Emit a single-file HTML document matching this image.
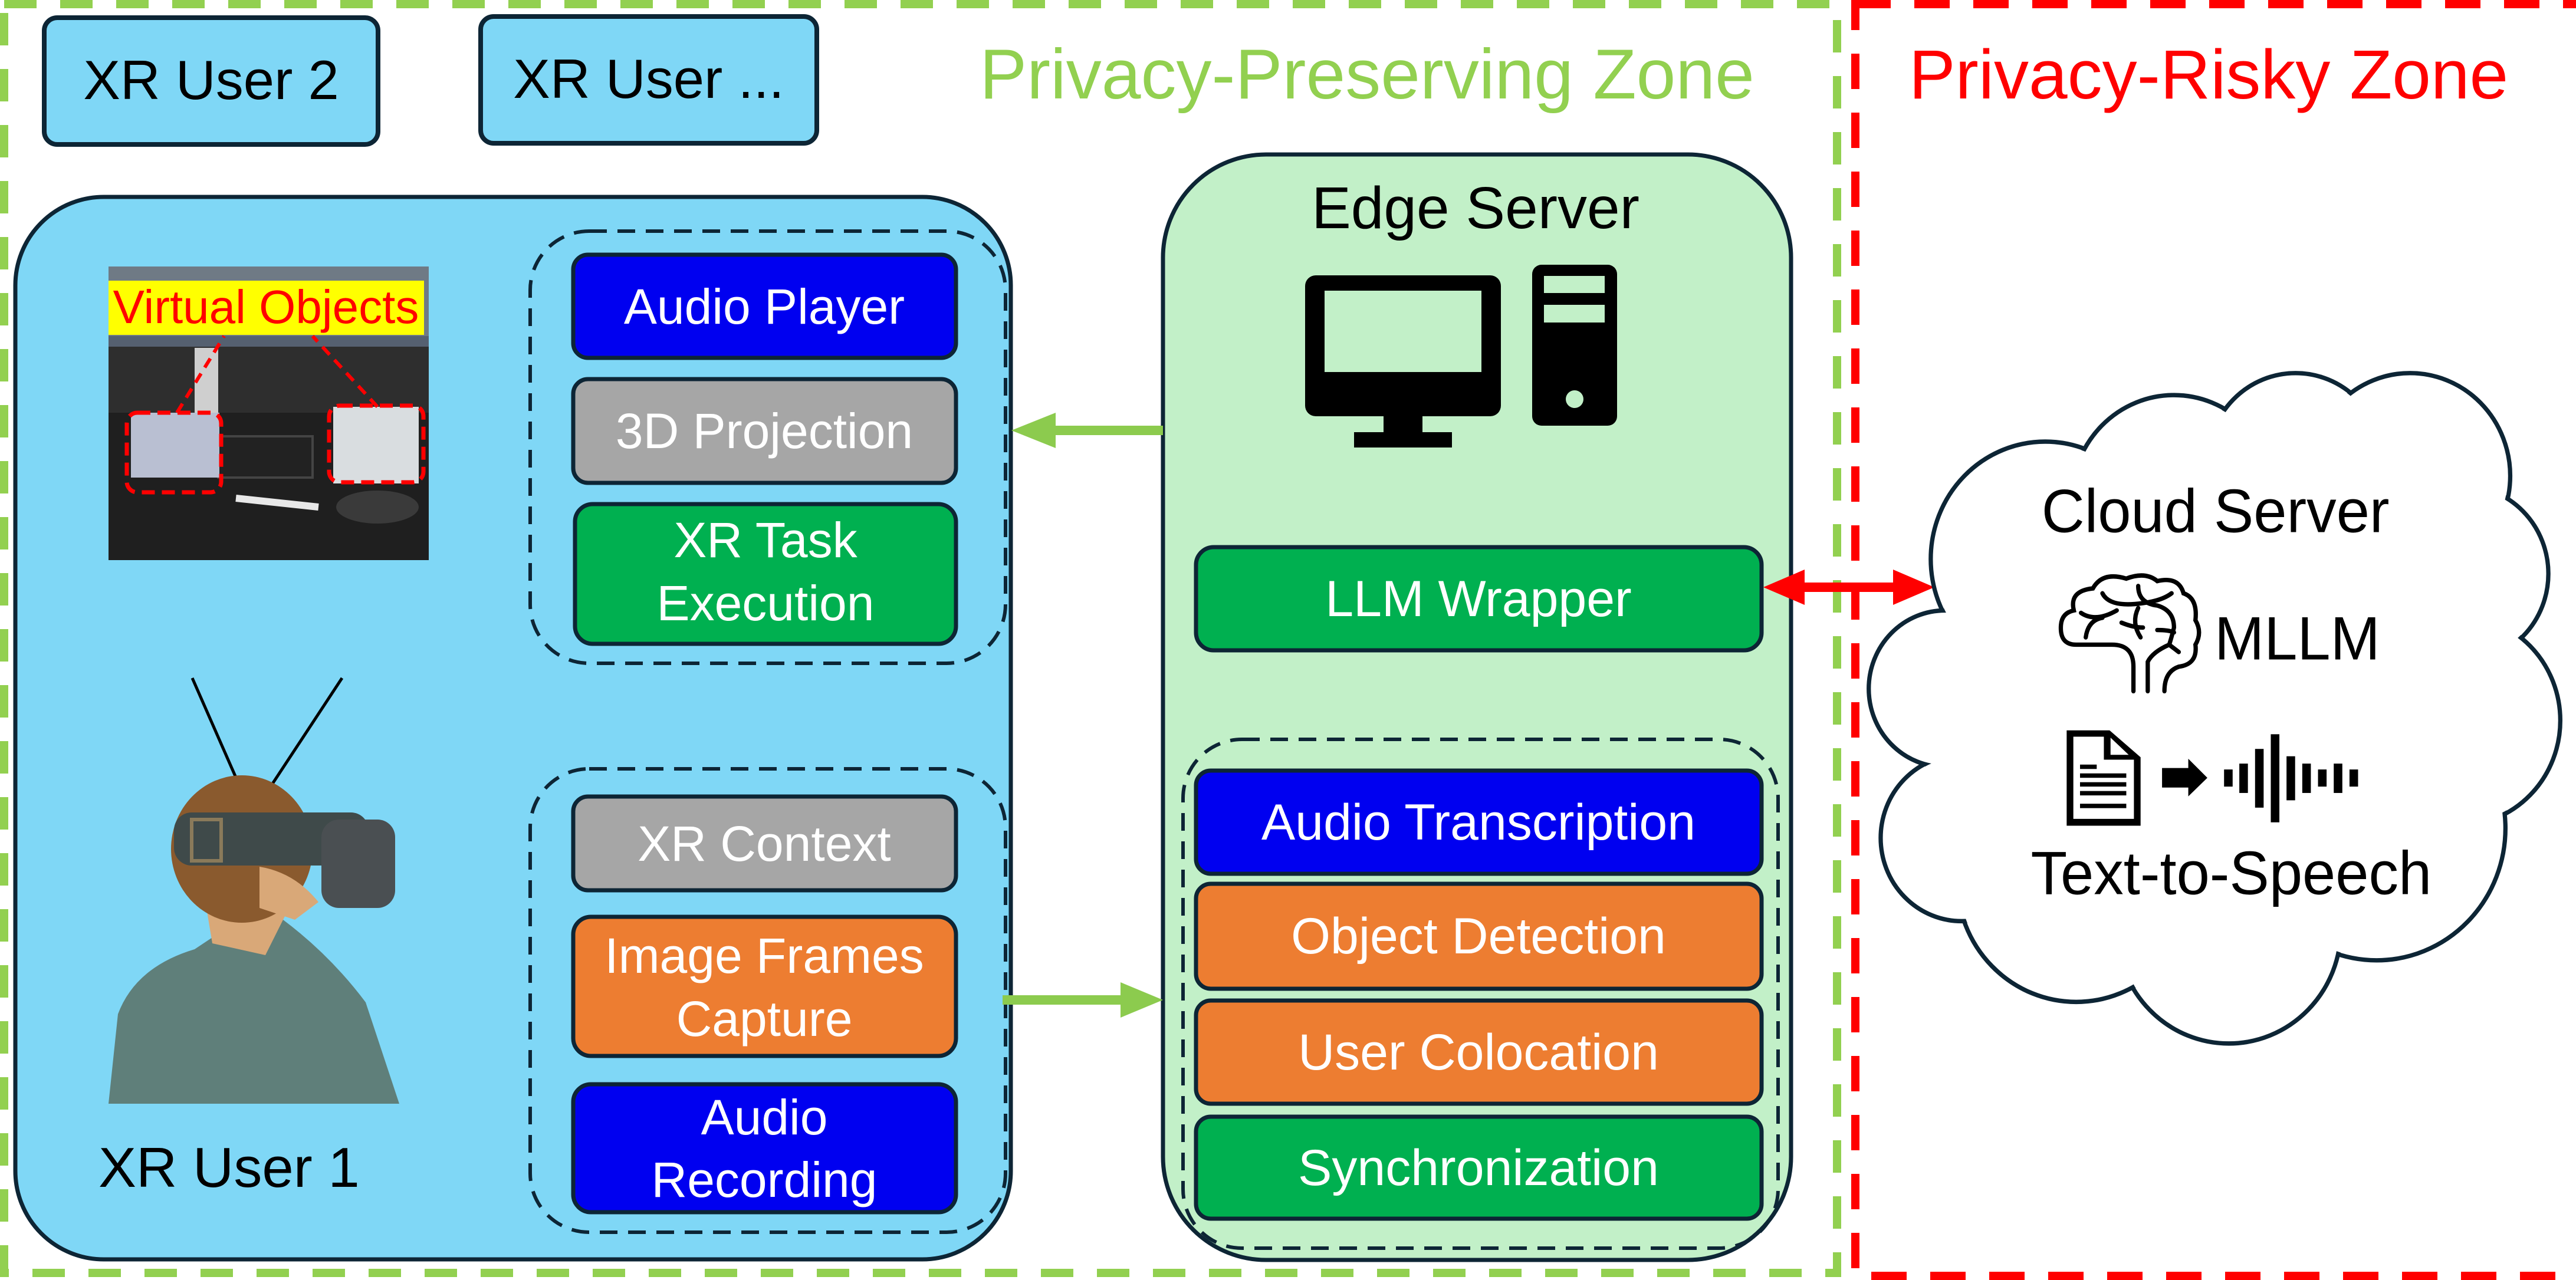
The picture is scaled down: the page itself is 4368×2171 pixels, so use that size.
<!DOCTYPE html>
<html><head><meta charset="utf-8">
<style>
html,body{margin:0;padding:0;background:#fff;}
svg{display:block;}
text{font-family:"Liberation Sans",sans-serif;}
</style></head>
<body>
<svg width="4368" height="2171" viewBox="0 0 4368 2171" xmlns="http://www.w3.org/2000/svg">
<rect width="4368" height="2171" fill="#fff"/>
<rect x="7" y="7" width="3108" height="2152" fill="none" stroke="#92D050" stroke-width="14" stroke-dasharray="55 40"/>
<rect x="3146" y="7" width="3215" height="2157" fill="none" stroke="#FF0000" stroke-width="14" stroke-dasharray="60 40"/>
<text x="2318" y="167" font-size="120" fill="#92D050" text-anchor="middle">Privacy-Preserving Zone</text>
<text x="3745" y="167" font-size="118" fill="#FF0000" text-anchor="middle">Privacy-Risky Zone</text>

<rect x="75" y="30" width="566" height="215" rx="22" fill="#7FD7F6" stroke="#0D2535" stroke-width="8"/>
<text x="358" y="168" font-size="94" text-anchor="middle">XR User 2</text>
<rect x="815" y="28" width="570" height="215" rx="22" fill="#7FD7F6" stroke="#0D2535" stroke-width="8"/>
<text x="1100" y="166" font-size="94" text-anchor="middle">XR User ...</text>

<rect x="26" y="334" width="1688" height="1802" rx="150" fill="#7FD7F6" stroke="#0D2535" stroke-width="7"/>

<!-- photo -->
<rect x="184" y="452" width="543" height="498" fill="#2e2e2e"/>
<rect x="184" y="452" width="543" height="130" fill="#6f7a85"/>
<rect x="184" y="570" width="543" height="18" fill="#556070"/>
<rect x="184" y="700" width="543" height="250" fill="#1f1f1f"/>
<rect x="330" y="590" width="40" height="160" fill="#cfcfcf"/>
<rect x="370" y="740" width="160" height="70" fill="#222" stroke="#444" stroke-width="4"/>
<rect x="222" y="700" width="150" height="110" fill="#b9bfd2"/>
<rect x="565" y="690" width="145" height="130" fill="#d9dde0"/>
<line x1="400" y1="845" x2="540" y2="860" stroke="#e8e8e8" stroke-width="12"/>
<ellipse cx="640" cy="860" rx="70" ry="28" fill="#3a3a3a"/>
<rect x="215" y="700" width="160" height="135" rx="18" fill="none" stroke="#FF0000" stroke-width="7" stroke-dasharray="22 12"/>
<rect x="558" y="688" width="160" height="130" rx="18" fill="none" stroke="#FF0000" stroke-width="7" stroke-dasharray="22 12"/>
<line x1="300" y1="700" x2="380" y2="570" stroke="#FF0000" stroke-width="6" stroke-dasharray="18 12"/>
<line x1="640" y1="690" x2="530" y2="570" stroke="#FF0000" stroke-width="6" stroke-dasharray="18 12"/>
<rect x="184" y="476" width="535" height="92" fill="#FFFF00"/>
<text x="451" y="548" font-size="80" fill="#FF0000" text-anchor="middle">Virtual Objects</text>

<line x1="326" y1="1150" x2="412" y2="1346" stroke="#000" stroke-width="5"/>
<line x1="580" y1="1150" x2="451" y2="1346" stroke="#000" stroke-width="5"/>

<!-- person -->
<path d="M184 1872 L200 1720 Q230 1640 330 1610 L390 1570 L480 1560 Q560 1620 620 1700 L677 1872 Z" fill="#5f7f7a"/>
<path d="M340 1480 L360 1600 L450 1620 L490 1540 Z" fill="#d9a878"/>
<ellipse cx="410" cy="1440" rx="120" ry="125" fill="#8a5a2e"/>
<path d="M440 1470 Q500 1480 540 1530 L500 1560 L440 1540 Z" fill="#d9a878"/>
<rect x="295" y="1378" width="330" height="90" rx="30" fill="#3f4a4a"/>
<rect x="545" y="1390" width="125" height="150" rx="30" fill="#4a4f52"/>
<rect x="325" y="1390" width="50" height="70" fill="none" stroke="#8a7a5a" stroke-width="6"/>

<text x="167" y="2013" font-size="96">XR User 1</text>

<rect x="899" y="392" width="806" height="733" rx="100" fill="none" stroke="#0D2535" stroke-width="6" stroke-dasharray="30 18"/>
<rect x="972" y="432" width="649" height="175" rx="25" fill="#0000F0" stroke="#0D2535" stroke-width="7"/>
<text x="1296" y="549" font-size="84" fill="#fff" text-anchor="middle">Audio Player</text>
<rect x="972" y="643" width="649" height="176" rx="25" fill="#A6A6A6" stroke="#0D2535" stroke-width="7"/>
<text x="1296" y="760" font-size="84" fill="#fff" text-anchor="middle">3D Projection</text>
<rect x="975" y="855" width="646" height="237" rx="30" fill="#00B050" stroke="#0D2535" stroke-width="7"/>
<text x="1298" y="945" font-size="84" fill="#fff" text-anchor="middle">XR Task</text>
<text x="1298" y="1052" font-size="84" fill="#fff" text-anchor="middle">Execution</text>

<rect x="899" y="1304" width="806" height="786" rx="100" fill="none" stroke="#0D2535" stroke-width="6" stroke-dasharray="30 18"/>
<rect x="972" y="1351" width="649" height="159" rx="25" fill="#A6A6A6" stroke="#0D2535" stroke-width="7"/>
<text x="1296" y="1460" font-size="84" fill="#fff" text-anchor="middle">XR Context</text>
<rect x="972" y="1555" width="649" height="236" rx="30" fill="#ED7D31" stroke="#0D2535" stroke-width="7"/>
<text x="1296" y="1650" font-size="84" fill="#fff" text-anchor="middle">Image Frames</text>
<text x="1296" y="1757" font-size="84" fill="#fff" text-anchor="middle">Capture</text>
<rect x="972" y="1839" width="649" height="217" rx="30" fill="#0000F0" stroke="#0D2535" stroke-width="7"/>
<text x="1296" y="1924" font-size="84" fill="#fff" text-anchor="middle">Audio</text>
<text x="1296" y="2030" font-size="84" fill="#fff" text-anchor="middle">Recording</text>

<rect x="1972" y="262" width="1065" height="1875" rx="175" fill="#C2F0C8" stroke="#0D2535" stroke-width="7"/>
<text x="2502" y="387" font-size="100" text-anchor="middle">Edge Server</text>
<rect x="2213" y="467" width="332" height="239" rx="18" fill="#000"/>
<rect x="2246" y="493" width="266" height="138" fill="#C2F0C8"/>
<rect x="2346" y="700" width="66" height="35" fill="#000"/>
<rect x="2296" y="733" width="166" height="26" fill="#000"/>
<rect x="2598" y="449" width="144" height="273" rx="16" fill="#000"/>
<rect x="2618" y="468" width="103" height="29" fill="#C2F0C8"/>
<rect x="2618" y="517" width="103" height="30" fill="#C2F0C8"/>
<ellipse cx="2670" cy="677" rx="15" ry="15" fill="#C2F0C8"/>

<rect x="2028" y="928" width="959" height="175" rx="30" fill="#00B050" stroke="#0D2535" stroke-width="7"/>
<text x="2507" y="1045" font-size="86" fill="#fff" text-anchor="middle">LLM Wrapper</text>

<rect x="2006" y="1254" width="1009" height="863" rx="100" fill="none" stroke="#0D2535" stroke-width="6" stroke-dasharray="30 18"/>
<rect x="2028" y="1307" width="959" height="175" rx="25" fill="#0000F0" stroke="#0D2535" stroke-width="7"/>
<text x="2507" y="1424" font-size="86" fill="#fff" text-anchor="middle">Audio Transcription</text>
<rect x="2028" y="1499" width="959" height="178" rx="25" fill="#ED7D31" stroke="#0D2535" stroke-width="7"/>
<text x="2507" y="1617" font-size="86" fill="#fff" text-anchor="middle">Object Detection</text>
<rect x="2028" y="1697" width="959" height="175" rx="25" fill="#ED7D31" stroke="#0D2535" stroke-width="7"/>
<text x="2507" y="1814" font-size="86" fill="#fff" text-anchor="middle">User Colocation</text>
<rect x="2028" y="1894" width="959" height="173" rx="25" fill="#00B050" stroke="#0D2535" stroke-width="7"/>
<text x="2507" y="2010" font-size="86" fill="#fff" text-anchor="middle">Synchronization</text>

<line x1="1972" y1="730" x2="1780" y2="730" stroke="#8CCB4E" stroke-width="16"/>
<polygon points="1715,730 1790,700 1790,760" fill="#8CCB4E"/>
<line x1="1700" y1="1696" x2="1910" y2="1696" stroke="#8CCB4E" stroke-width="16"/>
<polygon points="1972,1696 1900,1666 1900,1726" fill="#8CCB4E"/>

<line x1="3040" y1="996" x2="3230" y2="996" stroke="#FF0000" stroke-width="16"/>
<polygon points="2990,996 3060,966 3060,1026" fill="#FF0000"/>
<polygon points="3280,996 3210,966 3210,1026" fill="#FF0000"/>

<g transform="translate(3100,500) scale(0.8087,0.83)">
  <g fill="#fff" stroke="#0D2535" stroke-width="9">
    <circle cx="455" cy="540" r="240"/>
    <circle cx="725" cy="420" r="215"/>
    <circle cx="980" cy="345" r="185"/>
    <circle cx="1220" cy="370" r="210"/>
    <circle cx="1330" cy="570" r="180"/>
    <circle cx="1320" cy="870" r="215"/>
    <circle cx="1150" cy="1090" r="270"/>
    <circle cx="840" cy="1295" r="235"/>
    <circle cx="520" cy="1195" r="250"/>
    <circle cx="280" cy="1110" r="170"/>
    <circle cx="245" cy="805" r="160"/>
  </g>
  <g fill="#fff">
    <circle cx="455" cy="540" r="235"/>
    <circle cx="725" cy="420" r="210"/>
    <circle cx="980" cy="345" r="180"/>
    <circle cx="1220" cy="370" r="205"/>
    <circle cx="1330" cy="570" r="175"/>
    <circle cx="1320" cy="870" r="210"/>
    <circle cx="1150" cy="1090" r="265"/>
    <circle cx="840" cy="1295" r="230"/>
    <circle cx="520" cy="1195" r="245"/>
    <circle cx="280" cy="1110" r="165"/>
    <circle cx="245" cy="805" r="155"/>
    <circle cx="800" cy="800" r="520"/>
  </g>
  <text x="812" y="485" font-size="125" text-anchor="middle">Cloud Server</text>
  <g fill="none" stroke="#000" stroke-width="9" stroke-linecap="round">
    <path d="M640 810 L640 760 Q640 715 595 715 L520 715 Q485 715 488 675 Q490 650 515 645 Q505 605 555 600 Q575 565 625 580 Q665 565 690 585 Q735 575 745 610 Q775 620 770 665 Q785 690 770 715 Q775 755 735 760 Q705 770 705 810"/>
    <path d="M670 810 L670 750 Q680 730 715 715"/>
    <path d="M575 610 Q590 640 660 630 Q700 625 720 610"/>
    <path d="M650 595 Q650 630 690 635 Q725 645 725 680 Q720 700 715 715 L735 730"/>
    <path d="M530 650 Q560 670 605 645"/>
    <path d="M540 700 Q545 665 575 660"/>
    <path d="M615 670 Q640 680 660 680"/>
    <path d="M655 700 Q635 670 650 640"/>
    <path d="M690 685 Q715 685 725 690"/>
  </g>
  <text x="810" y="745" font-size="125">MLLM</text>
  <path d="M500 890 L590 890 L655 945 L655 1085 L500 1085 Z" fill="#000"/>
  <path d="M514 903 L578 903 L578 950 L641 950 L641 1071 L514 1071 Z" fill="#fff"/>
  <path d="M592 905 L630 940 L592 940 Z" fill="#fff"/>
  <g fill="#000"><rect x="528" y="960" width="35" height="9"/><rect x="528" y="978" width="97" height="9"/><rect x="528" y="996" width="97" height="9"/><rect x="528" y="1014" width="97" height="9"/><rect x="528" y="1040" width="97" height="9"/></g>
  <polygon points="700,967 755,967 755,948 795,987 755,1025 755,1007 700,1007" fill="#000"/>
  <g fill="#000">
    <rect x="830" y="970" width="18" height="35"/>
    <rect x="862" y="958" width="18" height="60"/>
    <rect x="895" y="928" width="18" height="120"/>
    <rect x="928" y="898" width="18" height="180"/>
    <rect x="961" y="943" width="18" height="90"/>
    <rect x="994" y="958" width="18" height="60"/>
    <rect x="1027" y="970" width="18" height="35"/>
    <rect x="1060" y="958" width="18" height="60"/>
    <rect x="1093" y="970" width="18" height="35"/>
  </g>
  <text x="845" y="1225" font-size="125" text-anchor="middle">Text-to-Speech</text>
</g>
</svg>
</body></html>
